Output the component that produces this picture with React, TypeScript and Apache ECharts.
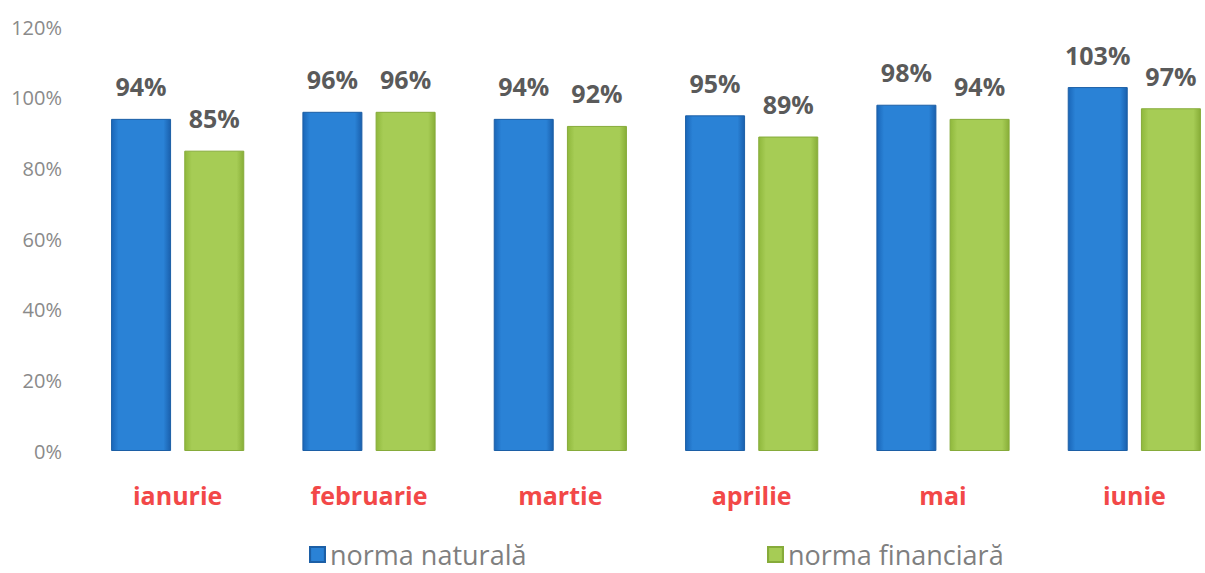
import React, { useEffect, useRef } from "react";
import * as echarts from "echarts";

const months = ["ianurie", "februarie", "martie", "aprilie", "mai", "iunie"];
const normaNaturala = [94, 96, 94, 95, 98, 103];
const normaFinanciara = [85, 96, 92, 89, 94, 97];
const seriesNames = ["norma naturală", "norma financiară"];

const blueFill = new echarts.graphic.LinearGradient(0, 0, 1, 0, [
  { offset: 0, color: "#1a66b8" },
  { offset: 0.12, color: "#2a82d6" },
  { offset: 0.88, color: "#2a82d6" },
  { offset: 1, color: "#1a60ad" },
]);
const greenFill = new echarts.graphic.LinearGradient(0, 0, 1, 0, [
  { offset: 0, color: "#8fb83c" },
  { offset: 0.12, color: "#a6cc55" },
  { offset: 0.88, color: "#a6cc55" },
  { offset: 1, color: "#88ae38" },
]);

export default function App() {
  const ref = useRef<HTMLDivElement>(null);
  useEffect(() => {
    document.body.style.margin = "0";
    document.body.style.overflow = "hidden";
    const chart = echarts.init(ref.current!, null, { renderer: "svg" });
    const labelStyle = {
      show: true,
      position: "top" as const,
      distance: 20,
      formatter: "{c}%",
      fontFamily: "Open Sans",
      fontWeight: "bold" as const,
      fontSize: 25,
      color: "#5a5a5a",
    };
    const legendText = { color: "#7f7f7f", fontFamily: "Open Sans", fontSize: 27 };
    chart.setOption({
      animation: false,
      backgroundColor: "#ffffff",
      grid: { left: 82, top: 27, width: 1148, height: 424, containLabel: false },
      xAxis: {
        type: "category",
        data: months,
        axisLine: { show: false },
        axisTick: { show: false },
        axisLabel: {
          color: "#f24848",
          fontFamily: "Open Sans",
          fontWeight: "bold",
          fontSize: 25,
          margin: 31,
        },
      },
      yAxis: {
        type: "value",
        min: 0,
        max: 120,
        interval: 20,
        axisLine: { show: false },
        axisTick: { show: false },
        splitLine: { show: false },
        axisLabel: {
          formatter: "{value}%",
          color: "#8a8a8a",
          fontFamily: "Open Sans",
          fontSize: 20,
          margin: 20,
        },
      },
      legend: [
        {
          data: [seriesNames[0]],
          icon: "rect",
          left: 304,
          bottom: 0,
          itemWidth: 15,
          itemHeight: 15,
          textStyle: legendText,
        },
        {
          data: [seriesNames[1]],
          icon: "rect",
          left: 762,
          bottom: 0,
          itemWidth: 15,
          itemHeight: 15,
          textStyle: legendText,
        },
      ],
      series: [
        {
          name: seriesNames[0],
          type: "bar",
          data: normaNaturala,
          barWidth: 60,
          barGap: "22%",
          itemStyle: { color: blueFill, borderColor: "#1c5fa6", borderWidth: 1 },
          label: labelStyle,
        },
        {
          name: seriesNames[1],
          type: "bar",
          data: normaFinanciara,
          barWidth: 60,
          itemStyle: { color: greenFill, borderColor: "#86ab3a", borderWidth: 1 },
          label: labelStyle,
        },
      ],
    });
    return () => chart.dispose();
  }, []);
  return <div ref={ref} style={{ width: 1240, height: 573 }} />;
}
